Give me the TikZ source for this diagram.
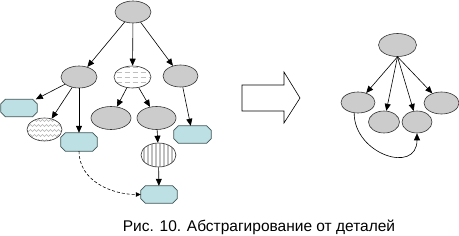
\documentclass[tikz,border=0pt]{standalone}
\usepackage{fontspec}
\setmainfont{Liberation Sans}
\usetikzlibrary{positioning,arrows.meta,shapes.geometric}
\definecolor{objgrey}{RGB}{204,204,204}
\definecolor{leafcyan}{RGB}{189,224,228}
\definecolor{leafedge}{RGB}{64,84,86}

\begin{document}
\begin{tikzpicture}[
  x=1pt, y=1pt,
  >={Triangle[length=7pt,width=6pt]},
  obj/.style={ellipse, draw=black!80, line width=0.6pt, fill=objgrey, inner sep=0pt,
              minimum width=36pt, minimum height=22pt},
  leaf/.style={rectangle, inner sep=0pt, minimum width=36pt, minimum height=17pt},
  leafbox/.style={draw=leafedge, line width=0.7pt, fill=leafcyan},
  dashfill/.style={fill=white, path picture={
      \foreach \k in {-10,-5,...,10}
        \draw[black!25, line width=0.5pt, dash pattern=on 5pt off 3pt]
          ([xshift=-24pt, yshift=\k pt]path picture bounding box.center) -- ++(48pt,0);}},
  zigfill/.style={fill=white, path picture={
      \foreach \k in {-12,-7,...,13}
        \draw[black!30, line width=0.5pt]
          ([xshift=-24pt, yshift=\k pt]path picture bounding box.center)
          foreach \i in {1,...,12} { -- ++(2pt,2pt) -- ++(2pt,-2pt) };}},
  stripefill/.style={fill=white, path picture={
      \foreach \i in {-20,-16,...,20}
        \fill[black!25] ([xshift=\i pt, yshift=-15pt]path picture bounding box.center)
          rectangle ++(2pt,30pt);}},
  link/.style={->, line width=0.6pt},
]
\useasboundingbox (0,0) rectangle (459,236);

% ==================== detailed tree ====================
\node[obj] (root) at (133,224) {};
\node[obj] (lmid) at (79,159) {};
\node[obj, dashfill, minimum width=37pt] (cmid) at (132.5,159) {};
\node[obj, minimum width=35pt] (rmid) at (180.5,160) {};

\node[leaf] (la) at (19,128) {};
\node[obj, zigfill, minimum width=35pt, minimum height=23pt] (lz) at (44.5,106.5) {};
\node[leaf, minimum height=18pt] (lb) at (79,94) {};
\node[obj, minimum width=40pt, minimum height=23pt] (cg1) at (111,118) {};
\node[obj, minimum width=39pt, minimum height=23pt] (cg2) at (156.5,118) {};
\node[leaf, minimum width=37pt] (rc) at (192.5,101.5) {};
\node[obj, stripefill, minimum width=35pt, minimum height=24pt] (cs) at (158.5,81) {};
\node[leaf] (cd) at (159,41.5) {};

% chamfered outlines of the leaf boxes
\foreach \n in {la,lb,rc,cd}
  \draw[leafbox] ([xshift=4.5pt]\n.north west) -- ([xshift=-4.5pt]\n.north east)
    -- ([yshift=-4.5pt]\n.north east) -- ([yshift=4.5pt]\n.south east)
    -- ([xshift=-4.5pt]\n.south east) -- ([xshift=4.5pt]\n.south west)
    -- ([yshift=4.5pt]\n.south west) -- ([yshift=-4.5pt]\n.north west) -- cycle;

\draw[link] (root) -- (lmid);
\draw[link] (root) -- (cmid);
\draw[link] (root) -- (rmid);
\draw[link] (lmid) -- (la);
\draw[link] (lmid) -- (lz);
\draw[link] (lmid) -- (lb);
\draw[link] (cmid) -- (cg1);
\draw[link] (cmid) -- (cg2);
\draw[link] (rmid) -- (rc);
\draw[link] (cg2) -- (cs);
\draw[link] (cs) -- (cd);
\draw[->, >={Triangle[length=5pt,width=4.5pt]}, line width=0.6pt, dash pattern=on 3pt off 2pt]
  (lb.south) to[out=-90, in=180] (cd.west);

% ==================== block arrow ====================
\draw[line width=0.6pt, fill=white] (242,151) -- (284,151) -- (284,164) -- (300,138)
  -- (284,113) -- (284,125) -- (242,125) -- cycle;

% ==================== abstracted graph ====================
\node[obj, minimum width=38pt, minimum height=23pt] (top) at (397.5,191) {};
\node[obj, minimum width=34pt, minimum height=21pt] (ab1) at (358,133.5) {};
\node[obj, minimum width=31pt] (ab2) at (384,114) {};
\node[obj, minimum width=30pt] (ab3) at (417,114) {};
\node[obj, minimum width=35pt] (ab4) at (441.5,133) {};

\draw[link] (top.south) -- (ab1);
\draw[link] (top.south) -- (ab2);
\draw[link] (top.south) -- (ab3);
\draw[link] (top.south) -- (ab4);
\draw[link] (ab1.250) to[out=-90, in=-90, looseness=1.6] (ab3.south);

% ==================== caption ====================
\node[font=\fontsize{15.5}{18}\selectfont, inner sep=0pt] (cap) at (259,9)
  {Рис. 10. Абстрагирование от деталей};

\end{tikzpicture}
\end{document}
